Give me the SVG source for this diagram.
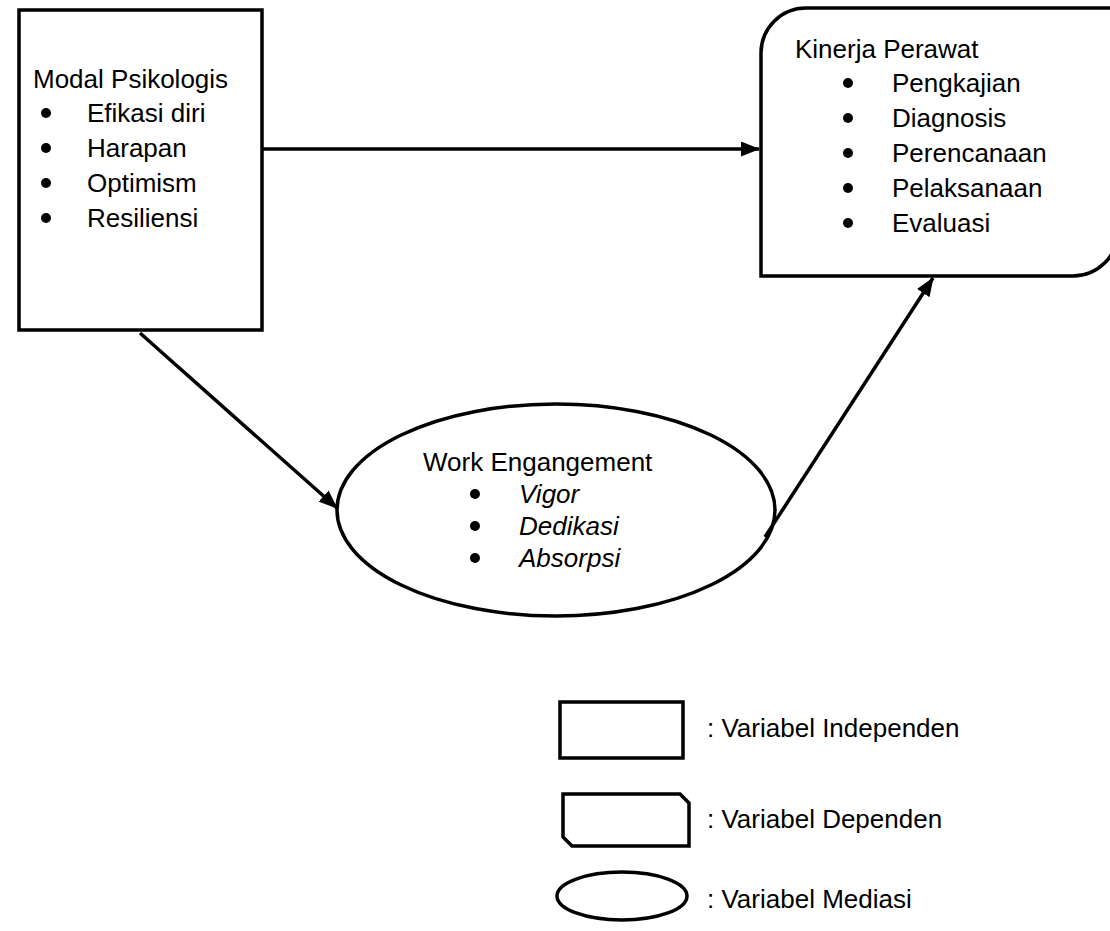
<svg xmlns="http://www.w3.org/2000/svg" width="1110" height="931" viewBox="0 0 1110 931">
<style>
.s{fill:none;stroke:#000;stroke-width:3.5}
.t{font-family:"Liberation Sans",Arial,sans-serif;font-size:26px;fill:#000}
.i{font-style:italic}
.b{fill:#000}
.c{fill:none;stroke:#000;stroke-width:3.5}
</style>
<defs>
<marker id="ah" markerUnits="userSpaceOnUse" markerWidth="19" markerHeight="15" refX="18" refY="7.5" orient="auto">
<path d="M0,0 L19,7.5 L0,15 Z" fill="#000"/>
</marker>
</defs>
<rect width="1110" height="931" fill="#fff"/>
<g id="modal">
<rect class="s" x="19" y="10" width="243" height="320"/>
<text class="t" x="33" y="88">Modal Psikologis</text>
<circle class="b" cx="46" cy="113" r="5"/><text class="t" x="87" y="122">Efikasi diri</text>
<circle class="b" cx="46" cy="148" r="5"/><text class="t" x="87" y="157">Harapan</text>
<circle class="b" cx="46" cy="183" r="5"/><text class="t" x="87" y="192">Optimism</text>
<circle class="b" cx="46" cy="218" r="5"/><text class="t" x="87" y="227">Resiliensi</text>
</g>
<g id="kinerja">
<path class="s" d="M761,276 L761,53 A45,45 0 0 1 806,8 L1118,8 L1118,231 A45,45 0 0 1 1073,276 Z"/>
<text class="t" x="795" y="58">Kinerja Perawat</text>
<circle class="b" cx="848" cy="83" r="5"/><text class="t" x="892" y="92">Pengkajian</text>
<circle class="b" cx="848" cy="118" r="5"/><text class="t" x="892" y="127">Diagnosis</text>
<circle class="b" cx="848" cy="153" r="5"/><text class="t" x="892" y="162">Perencanaan</text>
<circle class="b" cx="848" cy="188" r="5"/><text class="t" x="892" y="197">Pelaksanaan</text>
<circle class="b" cx="848" cy="223" r="5"/><text class="t" x="892" y="232">Evaluasi</text>
</g>
<g id="work">
<ellipse class="s" cx="556" cy="510" rx="219" ry="106"/>
<text class="t" x="423" y="471">Work Engangement</text>
<circle class="b" cx="475" cy="494" r="5"/><text class="t i" x="519" y="503">Vigor</text>
<circle class="b" cx="475" cy="526" r="5"/><text class="t i" x="519" y="535">Dedikasi</text>
<circle class="b" cx="475" cy="558" r="5"/><text class="t i" x="519" y="567">Absorpsi</text>
</g>
<g id="connectors">
<line class="c" x1="262" y1="149" x2="759" y2="149" marker-end="url(#ah)"/>
<line class="c" x1="140" y1="333" x2="337" y2="508" marker-end="url(#ah)"/>
<line class="c" x1="765" y1="537" x2="933" y2="278" marker-end="url(#ah)"/>
</g>
<g id="legend">
<rect class="s" x="560" y="702" width="123" height="56"/>
<text class="t" x="707" y="737">: Variabel Independen</text>
<path class="s" d="M563,794 L680,794 L689,803 L689,846 L572,846 L563,837 Z"/>
<text class="t" x="707" y="828">: Variabel Dependen</text>
<ellipse class="s" cx="622" cy="896" rx="65" ry="24"/>
<text class="t" x="707" y="908">: Variabel Mediasi</text>
</g>
</svg>
